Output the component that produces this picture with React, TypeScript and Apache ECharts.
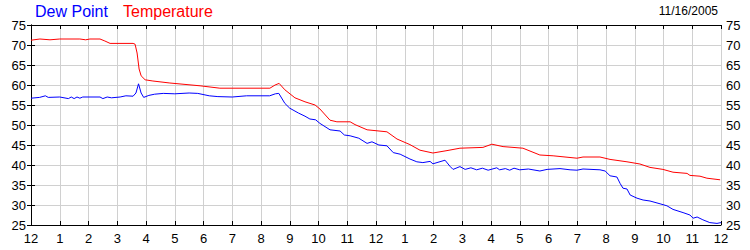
import React, { useEffect, useRef } from "react";
import * as echarts from "echarts";

const hourLabels = ["12","1","2","3","4","5","6","7","8","9","10","11","12","1","2","3","4","5","6","7","8","9","10","11","12"];
const yTicks = [25, 30, 35, 40, 45, 50, 55, 60, 65, 70, 75];
const dateLabel = "11/16/2005";
const seriesNames = ["Dew Point", "Temperature"];

// [hour since midnight, °F]
const temperature: [number, number][] = [
  [0, 71.2], [0.31, 71.5], [0.66, 71.3], [1.0, 71.5], [1.7, 71.5], [1.9, 71.3], [2.05, 71.5],
  [2.4, 71.5], [2.57, 71.0], [2.75, 70.4], [3.55, 70.4], [3.62, 70.2], [3.69, 68],
  [3.76, 64], [3.83, 62.3], [3.97, 61.3], [4.24, 61], [4.83, 60.5], [5.88, 59.8],
  [6.57, 59.2], [8.31, 59.2], [8.49, 60], [8.63, 60.4], [8.83, 58.8], [9.18, 56.8],
  [9.53, 55.8], [9.88, 55], [10.05, 54], [10.4, 51.2], [10.64, 50.8], [11.1, 50.8],
  [11.27, 50.1], [11.69, 48.8], [12.38, 48.3], [12.73, 46.5], [13.18, 45.1],
  [13.53, 43.7], [13.98, 43], [14.47, 43.6], [14.92, 44.2], [15.72, 44.4],
  [16.03, 45.2], [16.42, 44.6], [17.11, 44.2], [17.7, 42.5], [18.16, 42.3],
  [18.99, 41.7], [19.2, 42], [19.79, 42], [20.14, 41.4], [20.73, 40.8],
  [21.18, 40.25], [21.53, 39.4], [21.98, 38.9], [22.33, 38.2], [22.82, 37.9],
  [22.92, 37.4], [23.27, 37.2], [23.51, 36.7], [23.97, 36.3],
];

const dewPoint: [number, number][] = [
  [0, 56.7], [0.3, 56.9], [0.5, 57.3], [0.6, 56.9], [1.0, 57], [1.3, 56.6], [1.4, 57],
  [1.5, 56.6], [1.6, 57], [1.7, 56.7], [1.8, 57], [2.4, 57], [2.5, 56.6], [2.65, 57],
  [2.8, 56.8], [3.1, 57], [3.3, 57.3], [3.55, 57.2], [3.65, 58], [3.74, 60.3],
  [3.83, 58], [3.92, 56.9], [4.1, 57.4], [4.3, 57.7], [4.6, 57.9], [5.0, 57.8],
  [5.5, 58], [5.8, 57.9], [6.2, 57.3], [6.5, 57.1], [7.0, 57], [7.5, 57.3],
  [8.3, 57.3], [8.5, 57.8], [8.62, 57.9], [8.83, 55.4], [9.0, 54.2], [9.3, 53],
  [9.53, 52.2], [9.7, 51.5], [9.9, 51.3], [10.05, 50.4], [10.4, 48.8], [10.75, 48.5],
  [10.9, 47.5], [11.1, 47.3], [11.4, 46.7], [11.69, 45.4], [11.86, 45.8], [12.1, 45],
  [12.38, 44.8], [12.6, 43.1], [12.84, 42.7], [13.18, 41.5], [13.42, 40.8],
  [13.63, 40.6], [13.88, 40.9], [13.98, 40.3], [14.4, 41.2], [14.57, 39.7],
  [14.68, 38.9], [14.92, 39.6], [15.1, 38.9], [15.3, 39.3], [15.5, 38.8], [15.7, 39.2],
  [15.9, 38.7], [16.2, 39.3], [16.3, 38.8], [16.5, 39.1], [16.65, 38.7], [16.8, 39.2],
  [17.0, 38.8], [17.3, 39.0], [17.7, 38.5], [17.95, 38.9], [18.4, 39.1], [18.75, 38.8],
  [18.99, 38.7], [19.2, 39], [19.79, 38.8], [19.97, 38.5], [20.14, 37.3], [20.38, 37],
  [20.49, 35.4], [20.59, 34.2], [20.73, 34], [20.84, 32.5], [21.08, 31.7],
  [21.29, 31.25], [21.53, 31], [21.88, 30.3], [22.12, 29.8], [22.33, 28.9],
  [22.68, 28.1], [22.92, 27.5], [23.03, 26.7], [23.17, 27], [23.37, 26.3],
  [23.61, 25.6], [23.86, 25.4], [24, 25.6],
];

const FONT = "Liberation Sans, Arial, sans-serif";

export default function App() {
  const ref = useRef<HTMLDivElement>(null);
  useEffect(() => {
    if (!ref.current) return;
    const chart = echarts.init(ref.current, null, { renderer: "svg" });
    const yMin = yTicks[0];
    const yMax = yTicks[yTicks.length - 1];
    const axisLine = { show: true, lineStyle: { color: "#000", width: 1 } };
    const tick = { show: true, inside: true, length: 4, lineStyle: { color: "#000" } };
    const split = { show: true, lineStyle: { color: "#d0d0d0", width: 1 } };
    const yLabel = { fontSize: 13, color: "#000", fontFamily: FONT, margin: 5 };
    chart.setOption({
      animation: false,
      backgroundColor: "#fff",
      grid: { left: 31, right: 29, top: 25, bottom: 25, containLabel: false },
      graphic: [
        { type: "text", left: 35, top: 3, style: { text: seriesNames[0], fill: "#0000ff", font: `16px ${FONT}` } },
        { type: "text", left: 123, top: 3, style: { text: seriesNames[1], fill: "#ff0000", font: `16px ${FONT}` } },
        { type: "text", right: 32, top: 5, style: { text: dateLabel, fill: "#000", font: `12px ${FONT}` } },
      ],
      xAxis: [
        {
          type: "value", min: 0, max: 24, interval: 1, position: "bottom",
          axisLine, axisTick: tick, splitLine: split,
          axisLabel: {
            fontSize: 13, color: "#000", fontFamily: FONT, margin: 7,
            formatter: (v: number) => hourLabels[Math.round(v)] ?? "",
          },
        },
        {
          type: "value", min: 0, max: 24, interval: 1, position: "top",
          axisLine, axisTick: tick, splitLine: { show: false }, axisLabel: { show: false },
        },
      ],
      yAxis: [
        {
          type: "value", min: yMin, max: yMax, interval: 5, position: "left",
          axisLine, axisTick: tick, splitLine: split, axisLabel: yLabel,
        },
        {
          type: "value", min: yMin, max: yMax, interval: 5, position: "right",
          axisLine, axisTick: tick, splitLine: { show: false }, axisLabel: yLabel,
        },
      ],
      series: [
        {
          name: seriesNames[0], type: "line", data: dewPoint, showSymbol: false, symbol: "none",
          lineStyle: { color: "#0000ff", width: 1 }, xAxisIndex: 0, yAxisIndex: 0,
        },
        {
          name: seriesNames[1], type: "line", data: temperature, showSymbol: false, symbol: "none",
          lineStyle: { color: "#ff0000", width: 1 }, xAxisIndex: 0, yAxisIndex: 0,
        },
      ],
    });
    return () => chart.dispose();
  }, []);
  return (
    <div
      ref={ref}
      style={{ position: "absolute", left: 0, top: 0, width: 750, height: 250 }}
    />
  );
}
